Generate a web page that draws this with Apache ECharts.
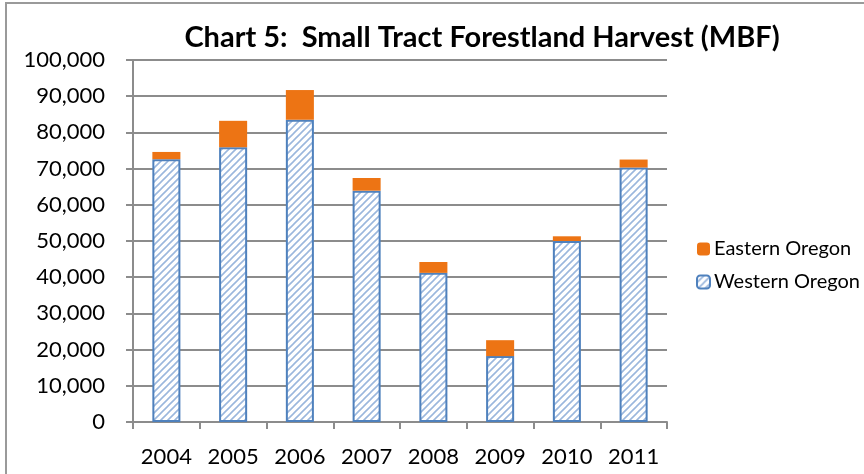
<!DOCTYPE html>
<html>
<head>
<meta charset="utf-8">
<script src="https://cdn.jsdelivr.net/npm/echarts@6/dist/echarts.min.js"></script>
<style>
  html, body { margin: 0; padding: 0; background: #fff; }
  #chart { width: 864px; height: 474px; }
</style>
</head>
<body>
<div id="chart"></div>
<script>
// years on the x axis
var years = ['2004', '2005', '2006', '2007', '2008', '2009', '2010', '2011'];
// harvest, MBF
var westernOregon = [72600, 75900, 83500, 63900, 41200, 18200, 50000, 70300];
var easternOregon = [2000, 7300, 8200, 3500, 3000, 4400, 1300, 2200];
// y axis ticks
var yMin = 0;
var yMax = 100000;
var yStep = 10000;

// hatch pattern for the western bars
function makeHatch() {
  var s = 7;
  var c = document.createElement('canvas');
  c.width = s;
  c.height = s;
  var ctx = c.getContext('2d');
  ctx.fillStyle = '#ffffff';
  ctx.fillRect(0, 0, s, s);
  ctx.strokeStyle = '#9bb7dd';
  ctx.lineWidth = 1.6;
  ctx.beginPath();
  ctx.moveTo(-1, s + 1); ctx.lineTo(s + 1, -1);
  ctx.moveTo(-1, 1); ctx.lineTo(1, -1);
  ctx.moveTo(s - 1, s + 1); ctx.lineTo(s + 1, s - 1);
  ctx.stroke();
  return c;
}

var chart = echarts.init(document.getElementById('chart'));
var gridColor = '#8c8c8c';
var labelFont = 'Lato';

var option = {
  animation: false,
  title: {
    text: 'Chart 5:  Small Tract Forestland Harvest (MBF)',
    left: 477,
    textAlign: 'center',
    top: 18,
    textStyle: {
      fontFamily: 'Lato',
      fontWeight: 'bold',
      fontSize: 29,
      color: '#000'
    }
  },
  legend: {
    orient: 'vertical',
    left: 696,
    top: 239,
    padding: 0,
    itemWidth: 13,
    itemHeight: 13,
    itemGap: 13,
    data: ['Eastern Oregon', 'Western Oregon'],
    textStyle: {
      fontFamily: labelFont,
      fontSize: 20,
      color: '#000',
      padding: [0, 0, 0, -1]
    }
  },
  grid: {
    left: 133,
    right: 197,
    top: 60,
    bottom: 52
  },
  xAxis: {
    type: 'category',
    data: years,
    axisLine: { lineStyle: { color: gridColor, width: 2 } },
    axisTick: { show: true, length: 7, lineStyle: { color: gridColor, width: 2 } },
    axisLabel: {
      fontFamily: labelFont,
      fontSize: 22,
      color: '#000',
      margin: 24
    }
  },
  yAxis: {
    type: 'value',
    min: yMin,
    max: yMax,
    interval: yStep,
    axisLine: { show: true, lineStyle: { color: gridColor, width: 2 } },
    axisTick: { show: true, length: 7, lineStyle: { color: gridColor, width: 2 } },
    splitLine: { lineStyle: { color: gridColor, width: 2 } },
    axisLabel: {
      fontFamily: labelFont,
      fontSize: 22,
      color: '#000',
      margin: 28,
      formatter: function (v) {
        return v.toLocaleString('en-US');
      }
    }
  },
  series: [{
    name: 'Western Oregon',
    type: 'bar',
    stack: 'total',
    barWidth: '42%',
    data: westernOregon,
    itemStyle: {
      color: { image: makeHatch(), repeat: 'repeat' },
      borderColor: '#4f81bd',
      borderWidth: 2
    }
  }, {
    name: 'Eastern Oregon',
    type: 'bar',
    stack: 'total',
    barWidth: '42%',
    data: easternOregon,
    itemStyle: {
      color: '#ed7414'
    }
  }],
  graphic: [{
    type: 'rect',
    shape: { x: 6, y: 3, width: 900, height: 520 },
    style: { fill: 'none', stroke: '#9a9a9a', lineWidth: 2 },
    silent: true
  }]
};

chart.setOption(option);
</script>
</body>
</html>
